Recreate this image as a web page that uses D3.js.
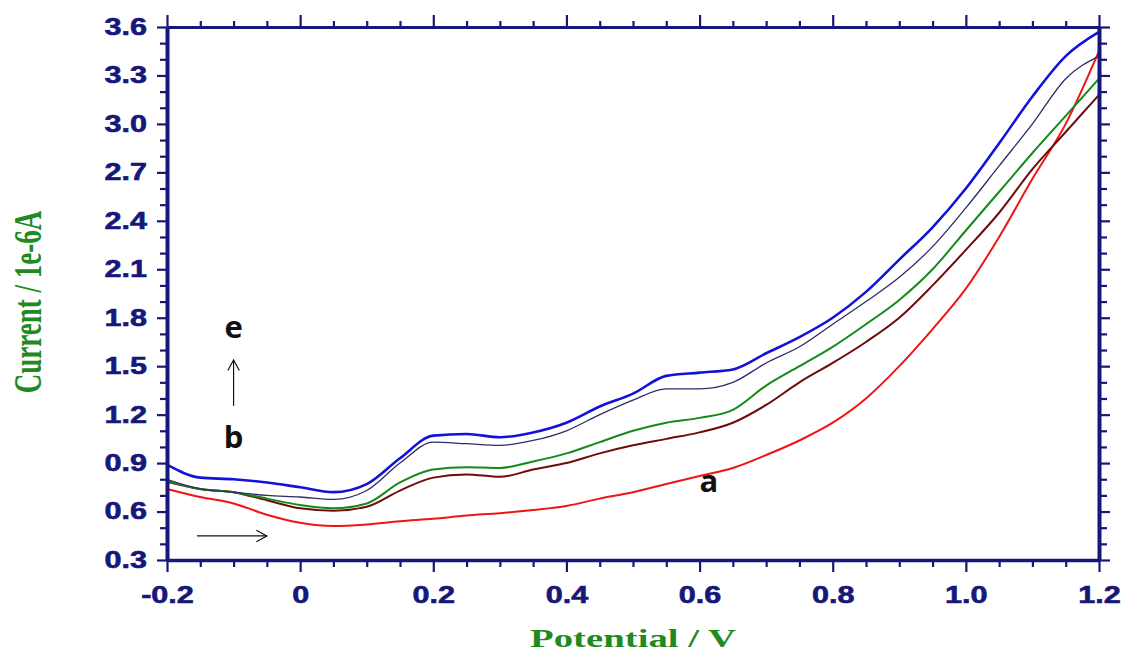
<!DOCTYPE html>
<html>
<head>
<meta charset="utf-8">
<script src="https://cdn.jsdelivr.net/npm/d3@7"></script>
<style>
  html, body { margin: 0; padding: 0; background: #fff; }
  svg { display: block; }
</style>
</head>
<body>
<div id="app"></div>
<script>
// potential grid (V) and current traces (1e-6 A)
const potential = [-0.2, -0.15, -0.1, -0.05, 0, 0.05, 0.1, 0.15, 0.2, 0.25, 0.3, 0.35, 0.4, 0.45, 0.5,
  0.55, 0.6, 0.65, 0.7, 0.75, 0.8, 0.85, 0.9, 0.95, 1.0, 1.05, 1.1, 1.15, 1.2];

const curveA = [0.74, 0.69, 0.65, 0.58, 0.53, 0.51, 0.52, 0.54, 0.555, 0.575, 0.59, 0.61, 0.635, 0.68, 0.72,
  0.77, 0.82, 0.87, 0.95, 1.04, 1.15, 1.30, 1.50, 1.73, 1.98, 2.30, 2.66, 3.00, 3.45];
const curveB = [0.785, 0.74, 0.72, 0.67, 0.62, 0.605, 0.63, 0.73, 0.81, 0.83, 0.815, 0.86, 0.90, 0.96, 1.01,
  1.05, 1.09, 1.15, 1.26, 1.40, 1.52, 1.65, 1.80, 2.00, 2.22, 2.45, 2.72, 2.95, 3.18];
const curveC = [0.79, 0.74, 0.72, 0.68, 0.64, 0.62, 0.65, 0.78, 0.86, 0.875, 0.87, 0.91, 0.96, 1.03, 1.10,
  1.15, 1.18, 1.23, 1.38, 1.50, 1.62, 1.76, 1.91, 2.10, 2.34, 2.58, 2.82, 3.05, 3.28];
const curveD = [0.80, 0.74, 0.72, 0.70, 0.69, 0.675, 0.73, 0.90, 1.03, 1.02, 1.01, 1.04, 1.10, 1.20, 1.29,
  1.36, 1.36, 1.40, 1.52, 1.62, 1.76, 1.90, 2.05, 2.24, 2.48, 2.74, 3.00, 3.28, 3.42];
const curveE = [0.89, 0.81, 0.80, 0.78, 0.75, 0.72, 0.77, 0.93, 1.07, 1.08, 1.06, 1.09, 1.15, 1.25, 1.33,
  1.44, 1.46, 1.48, 1.58, 1.68, 1.80, 1.96, 2.16, 2.36, 2.60, 2.88, 3.17, 3.42, 3.57];

const seriesNames  = ['a', 'b', 'c', 'd', 'e'];
const seriesValues = [curveA, curveB, curveC, curveD, curveE];
const seriesColors = ['#f01414', '#6e0c0c', '#158a1a', '#2c2c66', '#1212d8'];
const seriesWidths = [2, 2, 2, 1.3, 2.6];

const xTicks = d3.range(0, 29).map(i => Math.round((-0.2 + i * 0.05) * 100) / 100);
const yTicks = d3.range(0, 34).map(i => Math.round((0.3 + i * 0.1) * 10) / 10);
const xMajor = [-0.2, 0, 0.2, 0.4, 0.6, 0.8, 1.0, 1.2];
const yMajor = [0.3, 0.6, 0.9, 1.2, 1.5, 1.8, 2.1, 2.4, 2.7, 3.0, 3.3, 3.6];

// annotations in data units: [potential, current]
const labels = [
  { text: 'e', at: [-0.1, 1.675] },
  { text: 'b', at: [-0.1, 0.994] },
  { text: 'a', at: [0.614, 0.721] }
];
const arrows = [
  { from: [-0.1, 1.254], to: [-0.1, 1.538] },
  { from: [-0.155, 0.449], to: [-0.05, 0.449] }
];

const W = 1124, H = 661;
const margin = { top: 27, right: 25, bottom: 101, left: 167 };
const innerW = W - margin.left - margin.right;
const innerH = H - margin.top - margin.bottom;
const navy = '#17177a';
const green = '#1f8a22';
const stretch = 1.33;

const svg = d3.select('#app').append('svg')
  .attr('width', W)
  .attr('height', H);

const g = svg.append('g')
  .attr('transform', `translate(${margin.left},${margin.top})`);

const x = d3.scaleLinear().domain([-0.2, 1.2]).range([0, innerW]);
const y = d3.scaleLinear().domain([0.3, 3.6]).range([innerH, 0]);

const isMajorX = v => xMajor.some(m => Math.abs(m - v) < 1e-6);
const isMajorY = v => yMajor.some(m => Math.abs(m - v) < 1e-6);
const fmtX = v => (Math.abs(v) < 1e-9 ? '0' : v.toFixed(1));

// curves
const line = d3.line()
  .x(d => x(d[0]))
  .y(d => y(d[1]))
  .curve(d3.curveMonotoneX);

g.append('g')
  .selectAll('path')
  .data(seriesValues.map((vals, i) => ({ name: seriesNames[i], i, pts: potential.map((p, k) => [p, vals[k]]) })))
  .join('path')
  .attr('fill', 'none')
  .attr('stroke', d => seriesColors[d.i])
  .attr('stroke-width', d => seriesWidths[d.i])
  .attr('stroke-linejoin', 'round')
  .attr('d', d => line(d.pts));

// axes
const tickFont = 'bold 23px "Liberation Sans", Arial, sans-serif';
const styleAxis = (sel, major, width) => {
  sel.select('.domain').attr('stroke', navy).attr('stroke-width', width);
  sel.selectAll('.tick line').attr('stroke', navy).attr('stroke-width', 2.2);
  sel.selectAll('.tick text').filter(d => !major(d)).remove();
  sel.selectAll('.tick text')
    .attr('fill', navy)
    .attr('stroke', navy)
    .attr('stroke-width', 0.6)
    .style('font', tickFont);
};

const axisB = g.append('g')
  .attr('transform', `translate(0,${innerH})`)
  .call(d3.axisBottom(x).tickValues(xTicks).tickSizeOuter(0).tickFormat(fmtX));
styleAxis(axisB, isMajorX, 3.5);
axisB.selectAll('.tick line').attr('y2', d => (isMajorX(d) ? 12 : 7));
axisB.selectAll('.tick text')
  .attr('y', 43).attr('dy', null)
  .attr('transform', `scale(${stretch},1)`);

const axisT = g.append('g')
  .call(d3.axisTop(x).tickValues(xTicks).tickSizeOuter(0).tickFormat(''));
styleAxis(axisT, () => true, 3);
axisT.selectAll('.tick line').attr('y2', d => (isMajorX(d) ? -12 : -6));

const axisL = g.append('g')
  .call(d3.axisLeft(y).tickValues(yTicks).tickSizeOuter(0).tickFormat(d3.format('.1f')));
styleAxis(axisL, isMajorY, 4);
axisL.selectAll('.tick line').attr('x2', d => (isMajorY(d) ? -10 : -7));
axisL.selectAll('.tick text')
  .attr('x', -20 / stretch)
  .attr('transform', `scale(${stretch},1)`);

const axisR = g.append('g')
  .attr('transform', `translate(${innerW},0)`)
  .call(d3.axisRight(y).tickValues(yTicks).tickSizeOuter(0).tickFormat(''));
styleAxis(axisR, () => true, 4);
axisR.selectAll('.tick line').attr('x2', d => (isMajorY(d) ? 11 : 8));

// axis titles
svg.append('text')
  .attr('transform', `translate(${margin.left + innerW / 2},647) scale(1.49,1)`)
  .attr('text-anchor', 'middle')
  .attr('fill', green)
  .style('font', 'bold 26px "Liberation Serif", "Times New Roman", serif')
  .text('Potential / V');

svg.append('text')
  .attr('transform', `translate(41,302) scale(1.49,1) rotate(-90)`)
  .attr('text-anchor', 'middle')
  .attr('fill', green)
  .style('font', 'bold 27px "Liberation Serif", "Times New Roman", serif')
  .text('Current / 1e-6A');

// annotations
g.append('g')
  .selectAll('text')
  .data(labels)
  .join('text')
  .attr('x', d => x(d.at[0]))
  .attr('y', d => y(d.at[1]))
  .attr('text-anchor', 'middle')
  .attr('fill', '#111')
  .style('font', 'bold 31px "Open Sans", sans-serif')
  .text(d => d.text);

const arrowG = g.append('g')
  .attr('stroke', '#111')
  .attr('stroke-width', 1.2)
  .attr('fill', 'none');

arrows.forEach(a => {
  const x1 = x(a.from[0]), y1 = y(a.from[1]);
  const x2 = x(a.to[0]), y2 = y(a.to[1]);
  const ang = Math.atan2(y2 - y1, x2 - x1);
  const len = 12, spread = 0.5;
  arrowG.append('line')
    .attr('x1', x1).attr('y1', y1)
    .attr('x2', x2).attr('y2', y2);
  arrowG.append('path')
    .attr('d', `M${x2 - len * Math.cos(ang - spread)},${y2 - len * Math.sin(ang - spread)}` +
      `L${x2},${y2}` +
      `L${x2 - len * Math.cos(ang + spread)},${y2 - len * Math.sin(ang + spread)}`);
});
</script>
</body>
</html>
